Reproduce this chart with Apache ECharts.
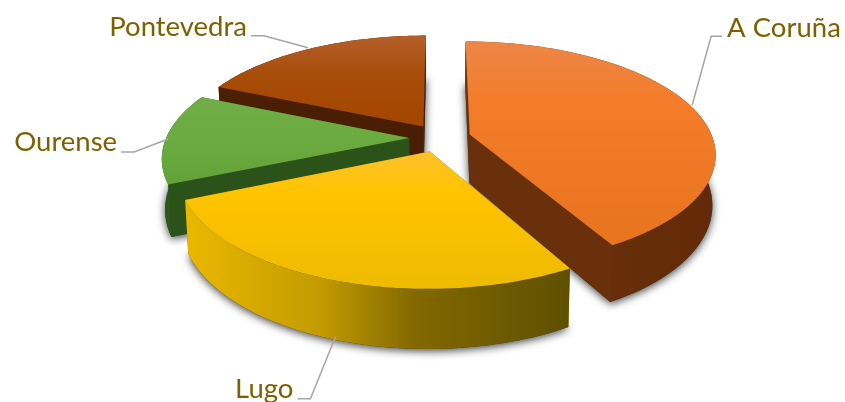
<!DOCTYPE html>
<html>
<head>
<meta charset="utf-8">
<script src="https://cdn.jsdelivr.net/npm/echarts@6/dist/echarts.min.js"></script>
<style>
  html, body { margin: 0; padding: 0; background: #fff; }
  #main { width: 845px; height: 402px; }
</style>
</head>
<body>
<div id="main"></div>
<script>
// shares, clockwise from 12 o'clock
const provinces = ['A Coruña', 'Lugo', 'Ourense', 'Pontevedra'];
const shares = [41.9, 26.6, 13, 18.5];

// 3d look of the exploded pie
const cx = 440, cy = 138;
const radius = 243, tilt = 0.451, persp = 0.166, explode = 0.127, depth = 49;

// back to front
const drawRank = [1, 3, 2, 0];

const topStops = [
  [[0, '#ec8648'], [0.3, '#f47c2a'], [1, '#e8741f']],
  [[0, '#fcc02c'], [0.3, '#ffc400'], [1, '#eebb00']],
  [[0, '#70ad47'], [0.5, '#6bab3f'], [1, '#62a238']],
  [[0, '#b5602c'], [0.45, '#a84c0a'], [1, '#a34600']]
];
const topRange = [[40, 243], [152, 290], [100, 180], [34, 125]];
const wallStops = [
  [[0, '#6f340c'], [1, '#622a08']],
  [[0, '#eab800'], [0.35, '#c29b00'], [0.6, '#826800'], [1, '#5f5000']],
  [[0, '#2c5a1b'], [1, '#264f16']],
  [[0, '#4b1f02'], [1, '#4b1f02']]
];
const cutColors = ['#6a300b', '#806600', '#2a5219', '#4a1e02'];
const labelColor = '#7f6000';
const leaderColor = '#a6a6a6';
// anchor nudge, elbow and text offset from the slice's anchor
const leaders = [
  { shift: [-1, -3], elbow: [19, -69], end: [30, -69], text: [35, -77], align: 'left', front: false },
  { shift: [1, -3], elbow: [-25, 62], end: [-38, 62], text: [-42, 52], align: 'right', front: true },
  { shift: [2, 1], elbow: [-34, 13], end: [-47, 13], text: [-51, 3], align: 'right', front: false },
  { shift: [-2, -1], elbow: [-44, -12], end: [-57, -12], text: [-61, -21], align: 'right', front: false }
];

const total = shares.reduce((a, b) => a + b, 0);

function project(u, v, z) {
  const s = 1 / (1 + persp * v);
  const shrink = 1 - 0.012 * z;
  return [
    cx + radius * u * s * shrink,
    cy - radius * tilt * v * s + z * depth * s
  ];
}

function renderSlice(params, api) {
  const i = params.dataIndex;
  const before = shares.slice(0, i).reduce((a, b) => a + b, 0);
  const a0 = before / total * Math.PI * 2;
  const a1 = a0 + api.value(0) / total * Math.PI * 2;
  const mid = (a0 + a1) / 2;
  const ox = explode * Math.sin(mid), oy = explode * Math.cos(mid);

  const steps = 60;
  const arcTop = [], arcBottom = [];
  for (let k = 0; k <= steps; k++) {
    const a = a0 + (a1 - a0) * k / steps;
    const u = ox + Math.sin(a), v = oy + Math.cos(a);
    arcTop.push(project(u, v, 0));
    arcBottom.push(project(u, v, 1));
  }
  const apexTop = project(ox, oy, 0), apexBottom = project(ox, oy, 1);
  const base = drawRank[i] * 10;

  const topFill = new echarts.graphic.LinearGradient(
    0, topRange[i][0], 0, topRange[i][1],
    topStops[i].map(s => ({ offset: s[0], color: s[1] })), true);
  const xs = arcTop.map(p => p[0]);
  const wallFill = new echarts.graphic.LinearGradient(
    Math.min.apply(null, xs), 0, Math.max.apply(null, xs), 0,
    wallStops[i].map(s => ({ offset: s[0], color: s[1] })), true);

  const children = [
    { // bottom face carries the soft drop shadow
      type: 'polygon', z2: base,
      shape: { points: [apexBottom].concat(arcBottom) },
      style: { fill: '#3a3a3a', shadowBlur: 8, shadowColor: 'rgba(0,0,0,0.75)', shadowOffsetY: 2 }
    },
    {
      type: 'polygon', z2: base + 1,
      shape: { points: [apexTop, arcTop[0], arcBottom[0], apexBottom] },
      style: { fill: cutColors[i] }
    },
    {
      type: 'polygon', z2: base + 1,
      shape: { points: [apexTop, arcTop[steps], arcBottom[steps], apexBottom] },
      style: { fill: cutColors[i] }
    },
    {
      type: 'polygon', z2: base + 2,
      shape: { points: arcTop.concat(arcBottom.slice().reverse()) },
      style: { fill: wallFill }
    },
    {
      type: 'polygon', z2: base + 3,
      shape: { points: [apexTop].concat(arcTop) },
      style: { fill: topFill }
    }
  ];

  // leader line and label
  const l = leaders[i];
  const anchor = project(ox + Math.sin(mid), oy + Math.cos(mid), l.front ? 1 : 0);
  anchor[0] += l.shift[0];
  anchor[1] += l.shift[1];
  children.push({
    type: 'polyline', z2: 100,
    shape: { points: [anchor, [anchor[0] + l.elbow[0], anchor[1] + l.elbow[1]], [anchor[0] + l.end[0], anchor[1] + l.end[1]]] },
    style: { stroke: leaderColor, lineWidth: 1.5, fill: 'none' }
  });
  children.push({
    type: 'text', z2: 101,
    style: {
      text: provinces[i],
      x: anchor[0] + l.text[0],
      y: anchor[1] + l.text[1],
      align: l.align,
      verticalAlign: 'middle',
      fill: labelColor,
      font: '27.5px Lato'
    }
  });
  return { type: 'group', children: children };
}

const chart = echarts.init(document.getElementById('main'), null, { renderer: 'canvas' });
chart.setOption({
  animation: false,
  backgroundColor: '#fff',
  series: [{
    type: 'custom',
    coordinateSystem: 'none',
    silent: true,
    renderItem: renderSlice,
    data: shares.map((v, i) => ({ name: provinces[i], value: [v] }))
  }]
});
</script>
</body>
</html>
